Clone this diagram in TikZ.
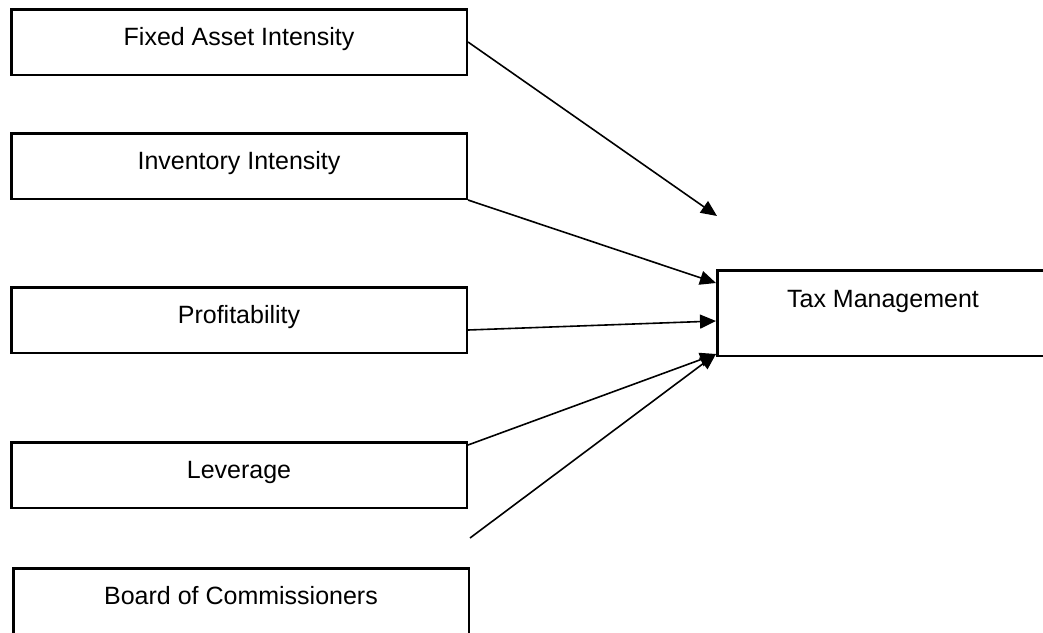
\documentclass[tikz,border=0pt]{standalone}
\usepackage{fontspec}
\setmainfont{Liberation Sans}
\usetikzlibrary{arrows.meta}

\begin{document}
\begin{tikzpicture}[x=1pt, y=-1pt,
	every node/.style={rectangle,draw,line width=2.5pt,align=center,font=\fontsize{25}{30}\selectfont},
	var/.style={minimum width=455.5pt,minimum height=65.5pt,text height=18pt,text depth=12pt},
	node distance=124pt]
	\useasboundingbox (0,0) rectangle (1043,632);
	\node[var] (Fixed) at (239,42) {Fixed Asset Intensity};
	\node[var,below of=Fixed] (Inventory) {Inventory Intensity};
	\node[var,below of=Inventory,node distance=154pt] (Profit) {Profitability};
	\node[var,below of=Profit,node distance=155pt] (Leverage) {Leverage};
	\node[var,below of=Leverage,node distance=126pt,xshift=2pt] (Board) {Board of Commissioners};
	\node[minimum width=331.5pt,minimum height=85.5pt,text height=18pt,text depth=30pt,right of=Profit,node distance=644pt,yshift=7pt] (Tax) {Tax Management};
	
	\coordinate (FixedEnd) at (717,216);
	\coordinate (BoardStart) at (470,538);
	
	\path[-{Triangle[length=16pt,width=14pt]},line width=1.6pt]
		(Fixed.east) edge (FixedEnd)
		(Inventory.south east) edge ([yshift=-14pt]Tax.north west)
		([yshift=-10pt]Profit.east) edge ([yshift=-8pt]Tax.west)
		([yshift=-4pt]Leverage.north east) edge ([yshift=3pt]Tax.south west)
		(BoardStart) edge ([yshift=3pt]Tax.south west)
	;
\end{tikzpicture}
\end{document}
